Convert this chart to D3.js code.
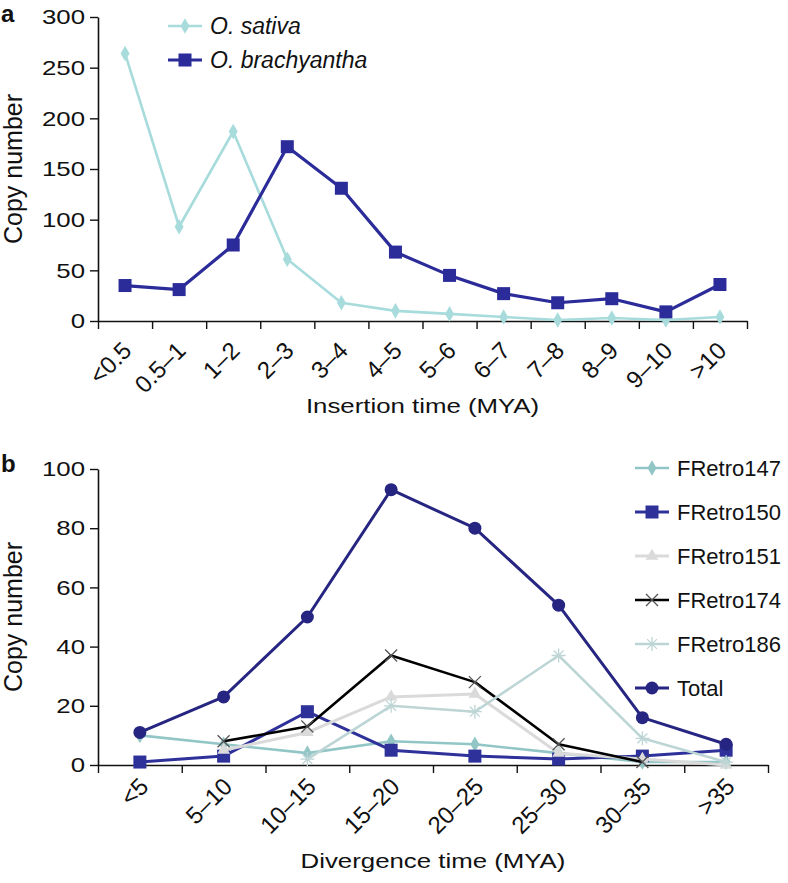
<!DOCTYPE html>
<html>
<head>
<meta charset="utf-8">
<script src="https://cdn.jsdelivr.net/npm/d3@7"></script>
<style>
  body { margin: 0; background: #fff; }
  text { font-family: "Liberation Sans", Arial, Helvetica, sans-serif; fill: #111; }
</style>
</head>
<body>
<script>
// panel a: insertion time
const catsA = ["<0.5", "0.5–1", "1–2", "2–3", "3–4", "4–5", "5–6", "6–7", "7–8", "8–9", "9–10", ">10"];
const sativa = [264, 93, 187, 61, 18, 10, 7, 4, 1, 3, 1, 4];
const brachy = [35, 31, 75, 172, 131, 68, 45, 27, 18, 22, 9, 36];
const ticksA = [0, 50, 100, 150, 200, 250, 300];

// panel b: divergence time
const catsB = ["<5", "5–10", "10–15", "15–20", "20–25", "25–30", "30–35", ">35"];
const fr147 = [10, 7, 4, 8, 7, 4, 1, 1];
const fr150 = [1, 3, 18, 5, 3, 2, 3, 5];
const fr151 = [null, 5, 11, 23, 24, 4, 2, 0];
const fr174 = [null, 8, 13, 37, 28, 7, 1, null];
const fr186 = [null, null, 2, 20, 18, 37, 9, 1];
const total = [11, 23, 50, 93, 80, 54, 16, 7];
const ticksB = [0, 20, 40, 60, 80, 100];

const SX = 1.23; // horizontal stretch of the axis lettering

const svg = d3.select('body')
    .append('svg')
    .attr("width", 788)
    .attr("height", 883);

// marker shapes
function xPath(s) {
    return `M${-s},${-s}L${s},${s}M${-s},${s}L${s},${-s}`;
}
function starPath(s) {
    const a = s * 0.7;
    return `M0,${-s}L0,${s}M${-s},0L${s},0M${-a},${-a}L${a},${a}M${-a},${a}L${a},${-a}`;
}
function drawMarker(g, type, color, cx, cy) {
    if (type === "diamond") {
        g.append("path").attr("d", d3.symbol(d3.symbolDiamond, 70)())
            .attr("transform", `translate(${cx},${cy})`).attr("fill", color);
    } else if (type === "square") {
        g.append("rect").attr("x", cx - 6.5).attr("y", cy - 6.5)
            .attr("width", 13).attr("height", 13).attr("fill", color);
    } else if (type === "triangle") {
        g.append("path").attr("d", d3.symbol(d3.symbolTriangle, 70)())
            .attr("transform", `translate(${cx},${cy})`).attr("fill", color);
    } else if (type === "x") {
        g.append("path").attr("d", xPath(6))
            .attr("transform", `translate(${cx},${cy})`)
            .attr("stroke", color).attr("stroke-width", 1.3).attr("fill", "none");
    } else if (type === "star") {
        g.append("path").attr("d", starPath(7))
            .attr("transform", `translate(${cx},${cy})`)
            .attr("stroke", color).attr("stroke-width", 1.3).attr("fill", "none");
    } else if (type === "circle") {
        g.append("circle").attr("cx", cx).attr("cy", cy).attr("r", 6.5).attr("fill", color);
    }
}

function drawPanel(opt) {
    const g = svg.append('g');
    const x = d3.scaleBand().domain(opt.cats).range([opt.x0, opt.x1]).paddingInner(0).paddingOuter(0);
    const y = d3.scaleLinear().domain([0, opt.yMax]).range([opt.yBottom, opt.yTop]);

    // y axis
    const yAxis = g.append('g')
        .attr("transform", `translate(${opt.x0},0)`)
        .call(d3.axisLeft(y).tickValues(opt.ticks).tickSize(8).tickSizeOuter(0));
    yAxis.select(".domain").attr("stroke", "#111").attr("stroke-width", 1.6);
    yAxis.selectAll(".tick line").attr("stroke", "#111").attr("stroke-width", 1.4);
    yAxis.selectAll(".tick text")
        .attr("font-size", 21)
        .attr("fill", "#111")
        .attr("x", -13 / SX)
        .attr("transform", `scale(${SX},1)`);

    // x axis: ticks at category boundaries
    const xb = d3.scaleLinear().domain([0, opt.cats.length]).range([opt.x0, opt.x1]);
    const xAxis = g.append('g')
        .attr("transform", `translate(0,${opt.yBottom})`)
        .call(d3.axisBottom(xb).ticks(opt.cats.length).tickFormat("").tickSize(8).tickSizeOuter(0));
    xAxis.select(".domain").attr("stroke", "#111").attr("stroke-width", 1.6);
    xAxis.selectAll(".tick line").attr("stroke", "#111").attr("stroke-width", 1.4);

    // rotated category labels
    g.selectAll(".xlab").data(opt.cats).enter().append("text")
        .attr("class", "xlab")
        .attr("text-anchor", "end")
        .attr("font-size", 24)
        .attr("transform", d => `translate(${x(d) + x.bandwidth() / 2 + opt.labDx},${opt.yBottom + opt.labDy}) rotate(-45)`)
        .text(d => d);

    // axis titles
    g.append("text")
        .attr("text-anchor", "middle")
        .attr("font-size", 21)
        .attr("transform", `translate(${(opt.x0 + opt.x1) / 2},${opt.titleY}) scale(${SX},1)`)
        .text(opt.xTitle);
    g.append("text")
        .attr("text-anchor", "middle")
        .attr("font-size", 25)
        .attr("transform", `translate(22,${(opt.yTop + opt.yBottom) / 2}) rotate(-90)`)
        .text("Copy number");

    // panel letter
    g.append("text")
        .attr("x", 1).attr("y", opt.letterY)
        .attr("font-size", 24).attr("font-weight", "bold")
        .text(opt.letter);

    // series
    const cx = i => x(opt.cats[i]) + x.bandwidth() / 2;
    opt.series.forEach(s => {
        const line = d3.line()
            .defined(d => d != null)
            .x((d, i) => cx(i))
            .y(d => y(d));
        g.append("path")
            .attr("d", line(s.values))
            .attr("fill", "none")
            .attr("stroke", s.color)
            .attr("stroke-width", s.width)
            .attr("stroke-linejoin", "round");
        s.values.forEach((v, i) => {
            if (v != null) drawMarker(g, s.marker, s.markerColor || s.color, cx(i), y(v));
        });
    });

    // legend
    opt.series.forEach((s, i) => {
        const ly = opt.legY + i * opt.legStep;
        g.append("line")
            .attr("x1", opt.legX).attr("x2", opt.legX + 34)
            .attr("y1", ly).attr("y2", ly)
            .attr("stroke", s.color).attr("stroke-width", s.width);
        drawMarker(g, s.marker, s.markerColor || s.color, opt.legX + 17, ly);
        g.append("text")
            .attr("x", opt.legX + 42).attr("y", ly + 8)
            .attr("font-size", opt.legFont)
            .attr("font-style", opt.legItalic ? "italic" : "normal")
            .text(s.name);
    });
}

drawPanel({
    letter: "a", letterY: 22,
    cats: catsA, ticks: ticksA, yMax: 300,
    x0: 98, x1: 747, yTop: 17, yBottom: 321,
    labDx: 8, labDy: 31, titleY: 413,
    xTitle: "Insertion time (MYA)",
    legX: 168, legY: 26, legStep: 34, legFont: 23, legItalic: true,
    series: [
        { name: "O. sativa", values: sativa, color: "#a8dcdc", width: 2.6, marker: "diamond" },
        { name: "O. brachyantha", values: brachy, color: "#2b2b99", width: 3.2, marker: "square" }
    ]
});

drawPanel({
    letter: "b", letterY: 472,
    cats: catsB, ticks: ticksB, yMax: 100,
    x0: 98, x1: 768, yTop: 469, yBottom: 765,
    labDx: 10, labDy: 23, titleY: 868,
    xTitle: "Divergence time (MYA)",
    legX: 635, legY: 468, legStep: 44, legFont: 22, legItalic: false,
    series: [
        { name: "FRetro147", values: fr147, color: "#92c6c6", width: 2.6, marker: "diamond" },
        { name: "FRetro150", values: fr150, color: "#2e3199", width: 3, marker: "square" },
        { name: "FRetro151", values: fr151, color: "#dadada", width: 3, marker: "triangle" },
        { name: "FRetro174", values: fr174, color: "#000000", width: 2.6, marker: "x", markerColor: "#555" },
        { name: "FRetro186", values: fr186, color: "#bdd5d5", width: 2.6, marker: "star" },
        { name: "Total", values: total, color: "#262682", width: 3, marker: "circle" }
    ]
});
</script>
</body>
</html>
